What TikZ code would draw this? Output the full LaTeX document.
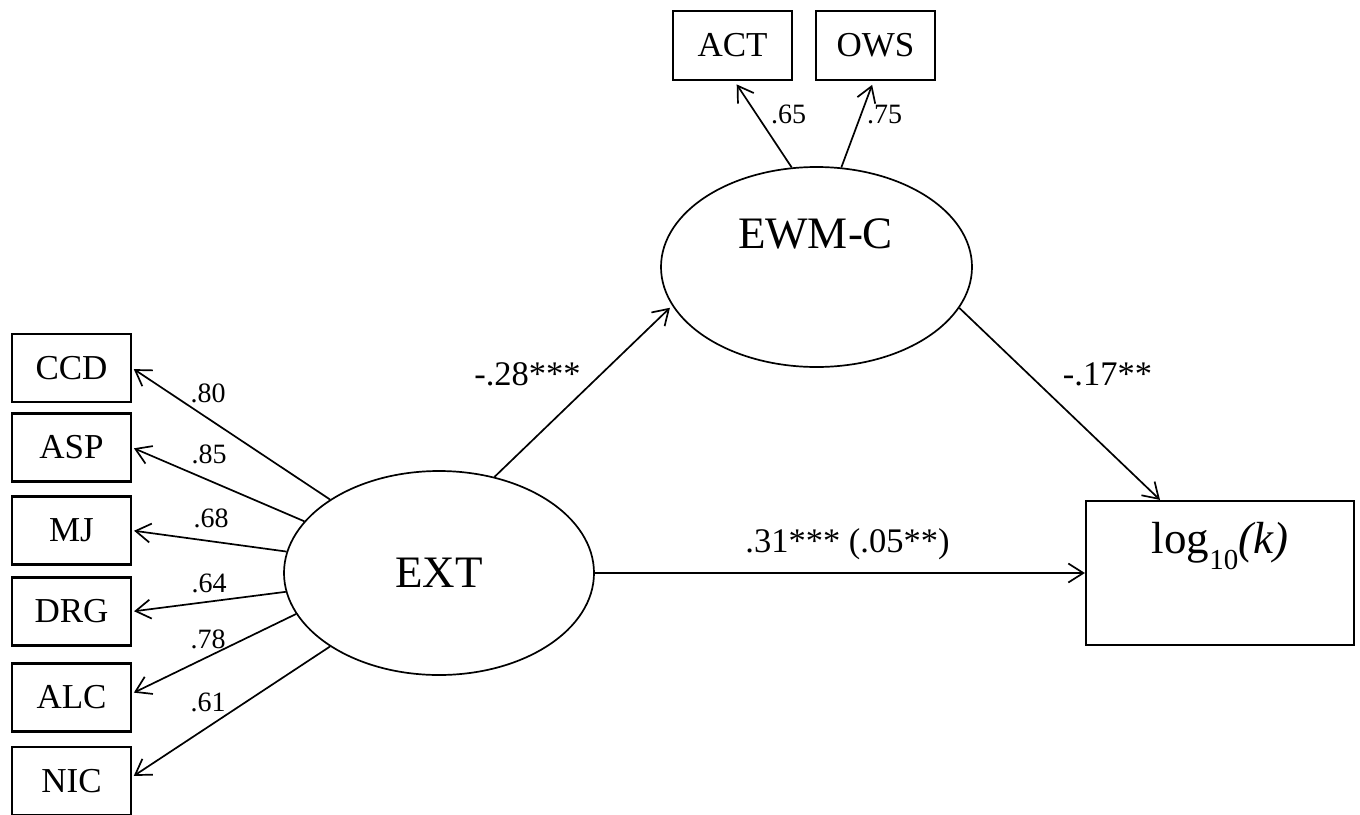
\documentclass[tikz,border=0pt]{standalone}
\usepackage{fontspec}
\setmainfont{Liberation Serif}
\usetikzlibrary{shapes.geometric,arrows.meta}
\begin{document}
\begin{tikzpicture}[x=1pt,y=-1pt,
  obs/.style={draw,line width=2.2pt,inner sep=0pt,minimum width=119pt,minimum height=68pt,font=\fontsize{35}{40}\selectfont},
  lat/.style={draw,ellipse,line width=1.7pt,inner sep=0pt},
  arr/.style={line width=1.7pt,-{Straight Barb[length=15pt,width=19pt]}},
  ld/.style={anchor=base,font=\fontsize{28}{32}\selectfont,inner sep=0pt},
  coef/.style={anchor=base,font=\fontsize{34.5}{38}\selectfont,inner sep=0pt},
  big/.style={anchor=base,inner sep=0pt,font=\fontsize{45}{50}\selectfont}]
\useasboundingbox (0,0) rectangle (1360,814);
\clip (0,0) rectangle (1360,814);
% observed indicators of EXT
\node[obs] (CCD) at (71.5,368) {CCD};
\node[obs] (ASP) at (71.5,447.5) {ASP};
\node[obs] (MJ)  at (71.5,530.5) {MJ};
\node[obs] (DRG) at (71.5,611.5) {DRG};
\node[obs] (ALC) at (71.5,697.5) {ALC};
\node[obs] (NIC) at (71.5,781) {NIC};
% indicators of EWM-C
\node[obs,minimum height=69pt] (ACT) at (732.5,45.5) {ACT};
\node[obs,minimum height=69pt] (OWS) at (875.5,45.5) {OWS};
% outcome
\node[obs,minimum width=268pt,minimum height=144pt] (log) at (1220,573) {};
\node[big] (logtext) at (1220,553) {log\raisebox{-16pt}{\fontsize{29}{32}\selectfont 10}\textit{(k)}};
% latent variables
\node[lat,minimum width=310pt,minimum height=204pt,font=\fontsize{45}{50}\selectfont] (EXT) at (439,573) {EXT};
\node[lat,minimum width=311pt,minimum height=200pt] (EWM) at (816.5,267) {};
\node[big] (EWMtext) at (815.5,248) {EWM-C};
% loadings EXT
\draw[arr,shorten >=2pt] (EXT.146) -- (CCD.east);
\draw[arr,shorten >=2pt] (EXT.159) -- (ASP.east);
\draw[arr,shorten >=2pt] (EXT.172) -- (MJ.east);
\draw[arr,shorten >=2pt] (EXT.187) -- (DRG.east);
\draw[arr,shorten >=2pt] (EXT.196) -- ([yshift=4pt]ALC.east);
\draw[arr,shorten >=2pt] (EXT.214) -- ([yshift=4pt]NIC.east);
% loadings EWM-C
\draw[arr,shorten >=4pt] (EWM.104) -- ([xshift=2pt]ACT.south);
\draw[arr,shorten >=4pt] (EWM.76) -- ([xshift=-2pt]OWS.south);
% structural paths
\draw[arr,shorten >=3pt] (EXT.60) -- (EWM.195);
\draw[arr] (EWM.344) -- ([xshift=-60pt]log.north);
\draw[arr] (EXT.east) -- (log.west);
% labels
\node[ld] (l80) at (208,402) {.80};
\node[ld] (l85) at (209,463) {.85};
\node[ld] (l68) at (211,527) {.68};
\node[ld] (l64) at (209,592) {.64};
\node[ld] (l78) at (208,648) {.78};
\node[ld] (l61) at (208,711) {.61};
\node[ld] (l65) at (788.5,123) {.65};
\node[ld] (l75) at (884.5,123) {.75};
\node[coef] (c28) at (527.5,385) {-.28***};
\node[coef] (c17) at (1107.5,385) {-.17**};
\node[coef] (c31) at (847.5,552) {.31*** (.05**)};
\end{tikzpicture}
\end{document}
